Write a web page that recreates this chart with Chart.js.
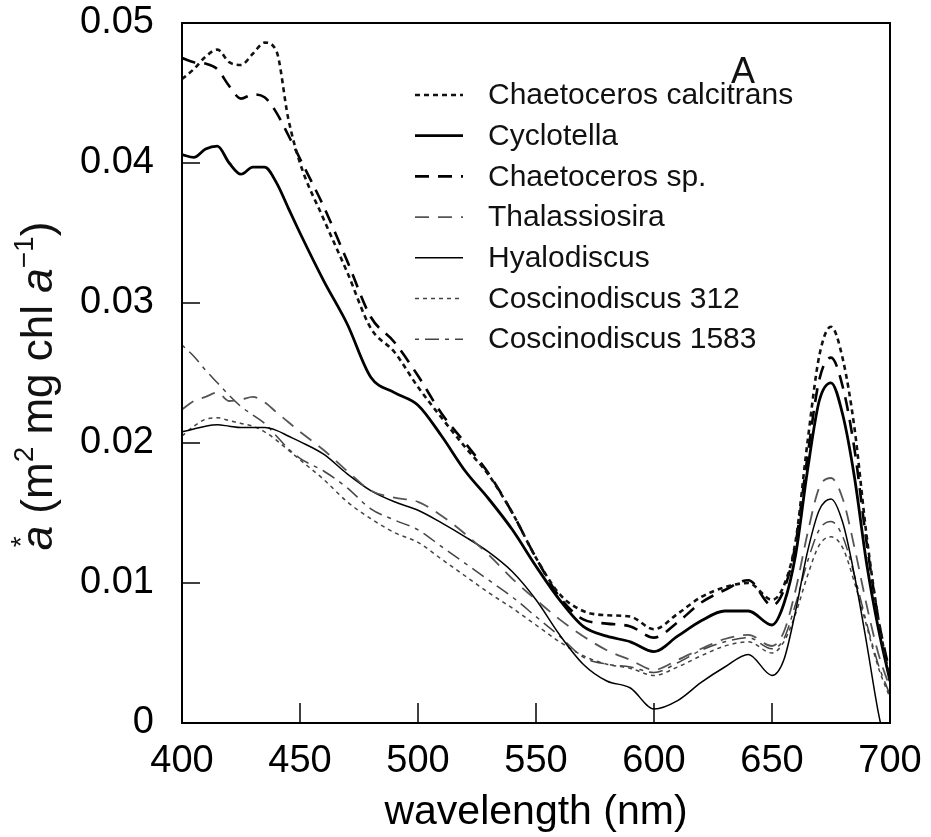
<!DOCTYPE html>
<html>
<head>
<meta charset="utf-8">
<script src="https://cdn.jsdelivr.net/npm/chart.js@4.4.1/dist/chart.umd.min.js"></script>
<style>
  html, body { margin: 0; padding: 0; background: #fff; }
</style>
</head>
<body>
<canvas id="chart" width="931" height="837"></canvas>
<script>
// wavelength grid (nm) shared by all spectra
const wavelengths = [400, 405, 410, 415, 420, 425, 430, 435, 440, 445, 450,
  460, 470, 480, 490, 500, 510, 520, 530, 540, 550, 560, 570, 580, 590, 600, 610, 620, 630, 640, 650,
  655, 660, 665, 670, 675, 680, 685, 690, 695, 700];

// a* values (m2 mg chl a-1)
const chaetocerosCalcitrans = [0.0460, 0.0467, 0.0476, 0.0481, 0.0472, 0.0470, 0.0478, 0.0486, 0.0480, 0.0432, 0.0400,
  0.0360, 0.0322, 0.0282, 0.0265, 0.0240, 0.0218, 0.0197, 0.0177, 0.0150, 0.0118, 0.0092, 0.0080, 0.0077, 0.0076, 0.0067, 0.0078, 0.0090, 0.0097, 0.0100, 0.0088,
  0.0098, 0.0130, 0.0200, 0.0262, 0.0283, 0.0260, 0.0210, 0.0135, 0.0075, 0.0030];
const cyclotella = [0.0406, 0.0404, 0.0410, 0.0412, 0.0400, 0.0392, 0.0397, 0.0397, 0.0386, 0.0368, 0.0350,
  0.0316, 0.0285, 0.0247, 0.0236, 0.0227, 0.0205, 0.0180, 0.0160, 0.0138, 0.0112, 0.0088, 0.0069, 0.0062, 0.0058, 0.0051, 0.0062, 0.0073, 0.0080, 0.0080, 0.0070,
  0.0085, 0.0120, 0.0180, 0.0230, 0.0243, 0.0220, 0.0175, 0.0115, 0.0068, 0.0030];
const chaetocerosSp = [0.0475, 0.0472, 0.0471, 0.0467, 0.0455, 0.0446, 0.0449, 0.0447, 0.0436, 0.0420, 0.0403,
  0.0369, 0.0330, 0.0290, 0.0272, 0.0248, 0.0221, 0.0200, 0.0178, 0.0150, 0.0118, 0.0090, 0.0074, 0.0071, 0.0069, 0.0061, 0.0072, 0.0086, 0.0095, 0.0102, 0.0084,
  0.0095, 0.0128, 0.0190, 0.0245, 0.0261, 0.0240, 0.0195, 0.0130, 0.0075, 0.0035];
const thalassiosira = [0.0224, 0.0230, 0.0233, 0.0236, 0.0230, 0.0231, 0.0233, 0.0229, 0.0222, 0.0215, 0.0208,
  0.0195, 0.0180, 0.0166, 0.0161, 0.0158, 0.0148, 0.0135, 0.0120, 0.0103, 0.0088, 0.0074, 0.0062, 0.0052, 0.0045, 0.0038, 0.0045, 0.0053, 0.0060, 0.0063, 0.0055,
  0.0065, 0.0095, 0.0135, 0.0168, 0.0175, 0.0160, 0.0125, 0.0085, 0.0050, 0.0025];
const hyalodiscus = [0.0208, 0.0210, 0.0212, 0.0213, 0.0212, 0.0211, 0.0211, 0.0211, 0.0209, 0.0205, 0.0201,
  0.0192, 0.0178, 0.0166, 0.0158, 0.0152, 0.0143, 0.0133, 0.0122, 0.0108, 0.0088, 0.0063, 0.0042, 0.0030, 0.0025, 0.0010, 0.0016, 0.0029, 0.0040, 0.0049, 0.0034,
  0.0045, 0.0080, 0.0122, 0.0152, 0.0160, 0.0143, 0.0105, 0.0058, 0.0008, -0.0030];
const coscinodiscus312 = [0.0205, 0.0212, 0.0217, 0.0218, 0.0216, 0.0214, 0.0212, 0.0208, 0.0202, 0.0195, 0.0188,
  0.0174, 0.0158, 0.0146, 0.0136, 0.0129, 0.0117, 0.0105, 0.0093, 0.0082, 0.0070, 0.0058, 0.0048, 0.0042, 0.0039, 0.0034, 0.0040, 0.0048, 0.0055, 0.0058, 0.0050,
  0.0058, 0.0078, 0.0105, 0.0127, 0.0133, 0.0125, 0.0100, 0.0070, 0.0040, 0.0018];
const coscinodiscus1583 = [0.0270, 0.0262, 0.0252, 0.0243, 0.0234, 0.0226, 0.0220, 0.0214, 0.0205, 0.0196, 0.0189,
  0.0180, 0.0168, 0.0153, 0.0145, 0.0138, 0.0126, 0.0114, 0.0102, 0.0090, 0.0076, 0.0062, 0.0047, 0.0042, 0.0040, 0.0036, 0.0043, 0.0052, 0.0058, 0.0061, 0.0053,
  0.0060, 0.0085, 0.0115, 0.0138, 0.0144, 0.0133, 0.0105, 0.0072, 0.0042, 0.0020];

const xTicks = [400, 450, 500, 550, 600, 650, 700];
const yTicks = [0, 0.01, 0.02, 0.03, 0.04, 0.05];

const FONT = "'Liberation Sans', Arial, Helvetica, sans-serif";

function series(label, values, style) {
  return {
    label: label,
    data: wavelengths.map((w, i) => ({ x: w, y: values[i] })),
    borderColor: style.color,
    borderWidth: style.width,
    borderDash: style.dash,
    pointRadius: 0,
    fill: false,
    cubicInterpolationMode: 'monotone',
  };
}

const datasets = [
  series('Chaetoceros calcitrans', chaetocerosCalcitrans, { color: '#111', width: 2.6, dash: [5, 4] }),
  series('Cyclotella', cyclotella, { color: '#000', width: 2.8, dash: [] }),
  series('Chaetoceros sp.', chaetocerosSp, { color: '#000', width: 2.6, dash: [14, 9] }),
  series('Thalassiosira', thalassiosira, { color: '#555', width: 1.8, dash: [14, 9] }),
  series('Hyalodiscus', hyalodiscus, { color: '#000', width: 1.5, dash: [] }),
  series('Coscinodiscus 312', coscinodiscus312, { color: '#444', width: 1.5, dash: [4, 4] }),
  series('Coscinodiscus 1583', coscinodiscus1583, { color: '#444', width: 1.5, dash: [4, 6, 14, 6] }),
];

// frame, inward ticks, legend, panel letter and y title
const decorations = {
  id: 'decorations',
  afterDatasetsDraw(chart) {
    const { ctx, chartArea: a, scales } = chart;
    ctx.save();
    ctx.strokeStyle = '#000';
    ctx.lineWidth = 2;
    ctx.setLineDash([]);
    ctx.strokeRect(a.left, a.top, a.right - a.left, a.bottom - a.top);

    ctx.lineWidth = 1.5;
    yTicks.slice(1, -1).forEach(v => {
      const y = scales.y.getPixelForValue(v);
      ctx.beginPath();
      ctx.moveTo(a.left, y);
      ctx.lineTo(a.left + 18, y);
      ctx.stroke();
    });
    xTicks.slice(1, -1).forEach(v => {
      const x = scales.x.getPixelForValue(v);
      ctx.beginPath();
      ctx.moveTo(x, a.bottom);
      ctx.lineTo(x, a.bottom - 20);
      ctx.stroke();
    });

    // legend
    ctx.font = '30px ' + FONT;
    ctx.textBaseline = 'middle';
    ctx.fillStyle = '#111';
    chart.data.datasets.forEach((ds, i) => {
      const y = 95 + i * 40.7;
      ctx.strokeStyle = ds.borderColor;
      ctx.lineWidth = ds.borderWidth;
      ctx.setLineDash(ds.borderDash);
      ctx.beginPath();
      ctx.moveTo(415, y);
      ctx.lineTo(463, y);
      ctx.stroke();
      ctx.fillText(ds.label, 488, y + 1);
    });
    ctx.setLineDash([]);

    ctx.font = '36px ' + FONT;
    ctx.textAlign = 'center';
    ctx.fillText('A', 743, 73);

    // y title: a* (m2 mg chl a-1)
    ctx.translate(52, 386);
    ctx.rotate(-Math.PI / 2);
    ctx.textAlign = 'left';
    ctx.textBaseline = 'alphabetic';
    const size = 44, sup = 28;
    const parts = [
      { t: 'a', f: 'italic ' + size + 'px ' + FONT, dy: 0 },
      { t: '*', f: sup + 'px ' + FONT, dy: -22, back: true },
      { t: ' (m', f: size + 'px ' + FONT, dy: 0 },
      { t: '2', f: sup + 'px ' + FONT, dy: -19 },
      { t: ' mg chl ', f: size + 'px ' + FONT, dy: 0 },
      { t: 'a', f: 'italic ' + size + 'px ' + FONT, dy: 0 },
      { t: '\u22121', f: sup + 'px ' + FONT, dy: -19 },
      { t: ')', f: size + 'px ' + FONT, dy: 0 },
    ];
    let total = 0;
    parts.forEach(p => {
      ctx.font = p.f;
      p.w = ctx.measureText(p.t).width;
      if (!p.back) total += p.w;
    });
    let x = -total / 2;
    let prev = 0;
    parts.forEach(p => {
      ctx.font = p.f;
      if (p.back) {
        ctx.fillText(p.t, x - prev + 3, p.dy);
      } else {
        ctx.fillText(p.t, x, p.dy);
        x += p.w;
        prev = p.w;
      }
    });
    ctx.restore();
  },
};

new Chart(document.getElementById('chart'), {
  type: 'line',
  data: { datasets },
  options: {
    responsive: false,
    animation: false,
    devicePixelRatio: 1,
    layout: { padding: { top: 23, right: 41, left: 0, bottom: 0 } },
    plugins: {
      legend: { display: false },
      tooltip: { enabled: false },
    },
    scales: {
      x: {
        type: 'linear',
        min: 400,
        max: 700,
        afterFit: scale => {
          scale.height = 114;
          scale.paddingLeft = 0;
          scale.paddingRight = 0;
        },
        afterBuildTicks: scale => { scale.ticks = xTicks.map(v => ({ value: v })); },
        grid: { display: false, drawTicks: false },
        border: { display: false },
        ticks: { color: '#000', padding: 16, font: { family: FONT, size: 38 } },
        title: {
          display: true,
          text: 'wavelength (nm)',
          color: '#000',
          font: { family: FONT, size: 41 },
          padding: { top: 0, bottom: 0 },
        },
      },
      y: {
        min: 0,
        max: 0.05,
        afterFit: scale => {
          scale.width = 182;
          scale.paddingTop = 0;
          scale.paddingBottom = 0;
        },
        afterBuildTicks: scale => { scale.ticks = yTicks.map(v => ({ value: v })); },
        grid: { display: false, drawTicks: false },
        border: { display: false },
        ticks: {
          color: '#000',
          padding: 28,
          font: { family: FONT, size: 38 },
          callback: v => (v === 0 ? '0' : v.toFixed(2)),
        },
      },
    },
  },
  plugins: [decorations],
});
</script>
</body>
</html>
